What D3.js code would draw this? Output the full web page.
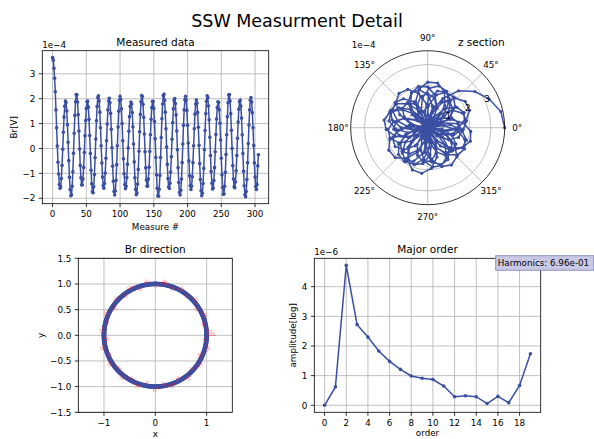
<!DOCTYPE html>
<html><head><meta charset="utf-8">
<script src="https://cdn.jsdelivr.net/npm/d3@7"></script>
<style>body{margin:0;background:#fff}svg{display:block;font-family:"DejaVu Sans",sans-serif}</style>
</head><body><svg id="c" width="594" height="439"></svg>
<script>
// ---- data ----
const measureValues = [3.65,3.55,3.22,2.82,2.28,1.55,0.83,0.10,-0.55,-1.03,-1.45,-1.60,-1.54,-1.21,-0.68,-0.03,0.65,1.26,1.70,1.91,
1.85,1.51,0.95,0.25,-0.49,-1.16,-1.65,-1.90,-1.86,-1.52,-0.94,-0.19,0.61,1.33,1.88,2.17,2.16,1.87,1.36,0.70,
-0.02,-0.68,-1.18,-1.46,-1.47,-1.23,-0.76,-0.16,0.51,1.12,1.61,1.88,1.91,1.66,1.17,0.52,-0.20,-0.88,-1.42,-1.74,
-1.78,-1.54,-1.05,-0.37,0.38,1.11,1.69,2.05,2.12,1.91,1.46,0.83,0.11,-0.58,-1.15,-1.50,-1.60,-1.41,-0.99,-0.39,
0.31,0.98,1.55,1.91,2.02,1.84,1.41,0.77,0.03,-0.71,-1.32,-1.73,-1.87,-1.71,-1.28,-0.65,0.11,0.86,1.50,1.94,
2.10,1.97,1.59,1.00,0.31,-0.41,-1.02,-1.45,-1.62,-1.52,-1.17,-0.63,0.02,0.69,1.28,1.69,1.87,1.79,1.44,0.87,
0.18,-0.54,-1.18,-1.65,-1.86,-1.79,-1.43,-0.84,-0.11,0.67,1.37,1.88,2.13,2.09,1.78,1.25,0.58,-0.13,-0.78,-1.27,
-1.52,-1.51,-1.23,-0.75,-0.12,0.55,1.17,1.64,1.90,1.89,1.61,1.08,0.39,-0.36,-1.06,-1.60,-1.90,-1.92,-1.64,-1.09,
-0.36,0.44,1.19,1.79,2.13,2.18,1.94,1.46,0.79,0.06,-0.64,-1.21,-1.54,-1.61,-1.40,-0.95,-0.33,0.37,1.04,1.59,
1.93,2.01,1.81,1.35,0.70,-0.05,-0.77,-1.37,-1.76,-1.87,-1.68,-1.23,-0.57,0.18,0.93,1.55,1.96,2.10,1.95,1.53,
0.93,0.22,-0.50,-1.10,-1.50,-1.65,-1.52,-1.14,-0.57,0.11,0.79,1.38,1.79,1.95,1.83,1.45,0.85,0.13,-0.61,-1.25,
-1.70,-1.90,-1.80,-1.41,-0.80,-0.05,0.72,1.40,1.90,2.12,2.05,1.71,1.15,0.45,-0.28,-0.93,-1.40,-1.63,-1.59,-1.29,
-0.77,-0.13,0.56,1.18,1.64,1.88,1.85,1.55,1.01,0.34,-0.39,-1.06,-1.57,-1.84,-1.83,-1.52,-0.96,-0.24,0.55,1.28,
1.84,2.15,2.17,1.91,1.40,0.73,0.00,-0.69,-1.23,-1.54,-1.58,-1.35,-0.90,-0.28,0.41,1.06,1.58,1.88,1.94,1.71,
1.22,0.55,-0.20,-0.92,-1.50,-1.86,-1.94,-1.73,-1.25,-0.57,0.20,0.94,1.55,1.94,2.05,1.87,1.44,0.83,0.12,-0.58,
-1.15,-1.53,-1.65,-1.45,-0.70,-0.25];
const orders = [0,1,2,3,4,5,6,7,8,9,10,11,12,13,14,15,16,17,18,19];
const orderValues = [0,0.62,4.72,2.72,2.30,1.83,1.48,1.21,0.99,0.91,0.87,0.65,0.29,0.32,0.29,0.06,0.30,0.09,0.67,1.74];
const measureTicks = [0,50,100,150,200,250,300];
const brTicks = [-2,-1,0,1,2,3];
const polarAngles = [0,45,90,135,180,225,270,315];
const polarRTicks = [1,2,3];
const dirTicksX = [-1,0,1];
const dirTicksY = [-1.5,-1.0,-0.5,0.0,0.5,1.0,1.5];
const orderTicksX = [0,2,4,6,8,10,12,14,16,18];
const orderTicksY = [0,1,2,3,4];
const harmonicsText = "Harmonics: 6.96e-01";
const thetaStepDeg = 12.5;   // angular step per measurement in the z section

// ---- styles ----
const BLUE = "#3a4fa2";
const GRID = "#b0b0b0";
const FS = 8.75, FT = 10.5;
const svg = d3.select("#c");
svg.append("rect").attr("width",594).attr("height",439).attr("fill","#fff");

svg.append("text").attr("x",297).attr("y",27).attr("text-anchor","middle")
  .attr("font-size",17.5).attr("fill","#000").text("SSW Measurment Detail");

function pad(ext){const r=ext[1]-ext[0];return [ext[0]-0.05*r, ext[1]+0.05*r];}

function cartesian(box, xs, ys, xticks, yticks, yfmt){
  const g = svg.append("g");
  xticks.forEach(t=>g.append("line").attr("x1",xs(t)).attr("x2",xs(t)).attr("y1",box.t).attr("y2",box.b)
    .attr("stroke",GRID).attr("stroke-width",0.8));
  yticks.forEach(t=>g.append("line").attr("y1",ys(t)).attr("y2",ys(t)).attr("x1",box.l).attr("x2",box.r)
    .attr("stroke",GRID).attr("stroke-width",0.8));
  const ax = svg.append("g");
  xticks.forEach(t=>{
    ax.append("line").attr("x1",xs(t)).attr("x2",xs(t)).attr("y1",box.b).attr("y2",box.b+3.5).attr("stroke","#000").attr("stroke-width",0.8);
    ax.append("text").attr("x",xs(t)).attr("y",box.b+13.5).attr("text-anchor","middle").attr("font-size",FS)
      .text(String(t).replace("-","\u2212"));
  });
  yticks.forEach(t=>{
    ax.append("line").attr("y1",ys(t)).attr("y2",ys(t)).attr("x1",box.l).attr("x2",box.l-3.5).attr("stroke","#000").attr("stroke-width",0.8);
    ax.append("text").attr("x",box.l-7).attr("y",ys(t)+3.2).attr("text-anchor","end").attr("font-size",FS)
      .text(yfmt(t).replace("-","\u2212"));
  });
  return {g, ax};
}
function frame(box){
  svg.append("rect").attr("x",box.l).attr("y",box.t).attr("width",box.r-box.l).attr("height",box.b-box.t)
    .attr("fill","none").attr("stroke","#000").attr("stroke-width",0.8);
}

// ---- Measured data ----
{
  const box = {l:42.3, r:268.7, t:50.7, b:203.7};
  const xs = d3.scaleLinear().domain(pad([0, measureValues.length-1])).range([box.l, box.r]);
  const ys = d3.scaleLinear().domain(pad(d3.extent(measureValues))).range([box.b, box.t]);
  const {g} = cartesian(box, xs, ys, measureTicks, brTicks, d=>String(d));
  const line = d3.line().x((d,i)=>xs(i)).y(d=>ys(d));
  g.append("path").datum(measureValues).attr("d",line).attr("fill","none").attr("stroke",BLUE).attr("stroke-width",1.5);
  g.selectAll("circle.m").data(measureValues).enter().append("circle")
    .attr("cx",(d,i)=>xs(i)).attr("cy",d=>ys(d)).attr("r",1.8).attr("fill",BLUE);
  frame(box);
  svg.append("text").attr("x",(box.l+box.r)/2).attr("y",45.5).attr("text-anchor","middle").attr("font-size",FT).text("Measured data");
  svg.append("text").attr("x",box.l).attr("y",47.5).attr("font-size",FS).text("1e\u22124");
  svg.append("text").attr("x",(box.l+box.r)/2).attr("y",229.5).attr("text-anchor","middle").attr("font-size",FS).text("Measure #");
  svg.append("text").attr("transform",`translate(16.5,${(box.t+box.b)/2}) rotate(-90)`).attr("text-anchor","middle").attr("font-size",FS).text("Br[V]");
}

// ---- z section (polar) ----
{
  const cx = 427.7, cy = 127.7, R = 77;
  const rs = d3.scaleLinear().domain([0, d3.max(measureValues)]).range([0, R]);
  const g = svg.append("g").attr("transform",`translate(${cx},${cy})`);
  polarRTicks.forEach(t=>g.append("circle").attr("r",rs(t)).attr("fill","none").attr("stroke",GRID).attr("stroke-width",0.8));
  polarAngles.forEach(a=>{
    const rad=a*Math.PI/180;
    g.append("line").attr("x1",0).attr("y1",0).attr("x2",R*Math.cos(rad)).attr("y2",-R*Math.sin(rad))
      .attr("stroke",GRID).attr("stroke-width",0.8);
    g.append("text").attr("x",(R+12.5)*Math.cos(rad)).attr("y",-(R+12.5)*Math.sin(rad)+3.2)
      .attr("text-anchor","middle").attr("font-size",FS).text(a+"\u00b0");
  });
  const pts = measureValues.map((v,i)=>{const th=i*thetaStepDeg*Math.PI/180; return [rs(v)*Math.cos(th), -rs(v)*Math.sin(th)];});
  g.append("path").datum(pts).attr("d",d3.line()).attr("fill","none").attr("stroke",BLUE).attr("stroke-width",1.5);
  g.selectAll("circle.p").data(pts).enter().append("circle").attr("cx",d=>d[0]).attr("cy",d=>d[1]).attr("r",1.6).attr("fill",BLUE);
  const lr = 22.5*Math.PI/180;
  polarRTicks.forEach(t=>g.append("text").attr("x",rs(t)*Math.cos(lr)+1).attr("y",-rs(t)*Math.sin(lr)-1)
    .attr("text-anchor","middle").attr("font-size",FS).text(t));
  g.append("circle").attr("r",R).attr("fill","none").attr("stroke","#000").attr("stroke-width",0.8);
  svg.append("text").attr("x",cx+R).attr("y",45.5).attr("text-anchor","end").attr("font-size",FT).text("z section");
  svg.append("text").attr("x",351.7).attr("y",47.5).attr("font-size",FS).text("1e\u22124");
}

// ---- Br direction ----
{
  const box = {l:78.3, r:232.3, t:258.3, b:412.3};
  const xs = d3.scaleLinear().domain([-1.5,1.5]).range([box.l, box.r]);
  const ys = d3.scaleLinear().domain([-1.5,1.5]).range([box.b, box.t]);
  const {g} = cartesian(box, xs, ys, dirTicksX, dirTicksY, d=>d.toFixed(1));
  const k = 0.05;
  const n = measureValues.length;
  const dirs = measureValues.map((v,i)=>{const th=2*Math.PI*i/n; return {c:Math.cos(th), s:Math.sin(th), v};});
  g.append("path").datum(dirs).attr("d",d3.line().x(d=>xs(d.c)).y(d=>ys(d.s)))
    .attr("fill","none").attr("stroke",BLUE).attr("stroke-width",1.5);
  g.selectAll("circle.d").data(dirs).enter().append("circle").attr("cx",d=>xs(d.c)).attr("cy",d=>ys(d.s)).attr("r",2.4).attr("fill",BLUE);
  g.selectAll("line.q").data(dirs.filter((d,i)=>i%2===0)).enter().append("line")
    .attr("x1",d=>xs(d.c)).attr("y1",d=>ys(d.s))
    .attr("x2",d=>xs(d.c*(1+k*d.v))).attr("y2",d=>ys(d.s*(1+k*d.v)))
    .attr("stroke","rgba(255,30,30,0.55)").attr("stroke-width",0.9);
  frame(box);
  svg.append("text").attr("x",(box.l+box.r)/2).attr("y",252.5).attr("text-anchor","middle").attr("font-size",FT).text("Br direction");
  svg.append("text").attr("x",(box.l+box.r)/2).attr("y",437).attr("text-anchor","middle").attr("font-size",FS).text("x");
  svg.append("text").attr("transform",`translate(44,${(box.t+box.b)/2}) rotate(-90)`).attr("text-anchor","middle").attr("font-size",FS).text("y");
}

// ---- Major order ----
{
  const box = {l:314.3, r:540.7, t:258.3, b:412.3};
  const xs = d3.scaleLinear().domain(pad(d3.extent(orders))).range([box.l, box.r]);
  const ys = d3.scaleLinear().domain(pad(d3.extent(orderValues))).range([box.b, box.t]);
  const {g} = cartesian(box, xs, ys, orderTicksX, orderTicksY, d=>String(d));
  g.append("path").datum(orders).attr("d",d3.line().x(d=>xs(d)).y((d,i)=>ys(orderValues[i])))
    .attr("fill","none").attr("stroke",BLUE).attr("stroke-width",1.5);
  g.selectAll("circle.o").data(orders).enter().append("circle").attr("cx",d=>xs(d)).attr("cy",(d,i)=>ys(orderValues[i])).attr("r",1.8).attr("fill",BLUE);
  frame(box);
  svg.append("text").attr("x",(box.l+box.r)/2).attr("y",252.5).attr("text-anchor","middle").attr("font-size",FT).text("Major order");
  svg.append("text").attr("x",box.l).attr("y",255.3).attr("font-size",FS).text("1e\u22126");
  svg.append("text").attr("x",(box.l+box.r)/2).attr("y",436).attr("text-anchor","middle").attr("font-size",FS).text("order");
  svg.append("text").attr("transform",`translate(296,${(box.t+box.b)/2}) rotate(-90)`).attr("text-anchor","middle").attr("font-size",FS).text("amplitude[log]");
  svg.append("rect").attr("x",495.7).attr("y",255.7).attr("width",98).attr("height",14.5)
    .attr("fill","#c9c9e6").attr("stroke","#8f8fc4").attr("stroke-width",1);
  svg.append("text").attr("x",497.7).attr("y",266).attr("font-size",FS).text(harmonicsText);
}
</script></body></html>
